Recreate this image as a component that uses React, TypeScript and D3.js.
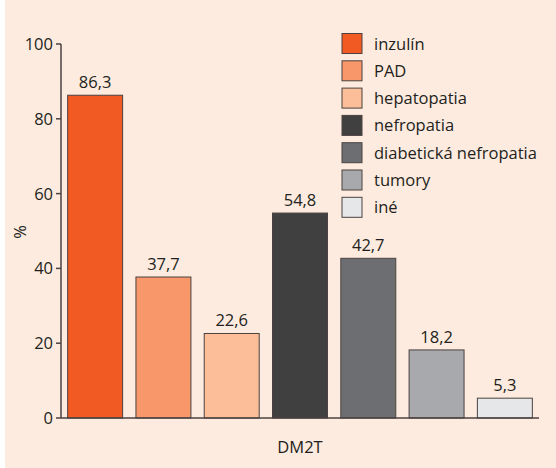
import React from "react";
import * as d3 from "d3";

const categories = ["inzulín", "PAD", "hepatopatia", "nefropatia", "diabetická nefropatia", "tumory", "iné"];
const values = [86.3, 37.7, 22.6, 54.8, 42.7, 18.2, 5.3];
const colors = ["#f15a22", "#f7976a", "#fbbe98", "#404041", "#6d6e71", "#a7a9ac", "#e6e7e8"];
const yTicks = [0, 20, 40, 60, 80, 100];
const xLabel = "DM2T";
const yLabel = "%";

const W = 556;
const H = 468;
const font = "'Open Sans', sans-serif";
const fs = 16.5;
const textColor = "#231f20";
const stroke = "#4a4240";

export default function App() {
  const x = d3.scaleBand<string>().domain(categories).range([61, 539]).paddingInner(0.195).paddingOuter(0.0975);
  const y = d3.scaleLinear().domain([0, 100]).range([418, 44]);
  const fmt = (v: number) => v.toFixed(1).replace(".", ",");

  return (
    <svg width={W} height={H} style={{ position: "absolute", left: 0, top: 0, display: "block" }}>
      <rect x={5} y={0} width={W - 5} height={H} fill="#fdebdf" />
      {categories.map((c, i) => (
        <g key={c}>
          <rect
            x={x(c)!}
            y={y(values[i])}
            width={x.bandwidth()}
            height={y(0) - y(values[i])}
            fill={colors[i]}
            stroke={stroke}
            strokeWidth={1}
          />
          <text
            x={x(c)! + x.bandwidth() / 2}
            y={y(values[i]) - 7}
            textAnchor="middle"
            fontFamily={font}
            fontSize={fs}
            fill={textColor}
          >
            {fmt(values[i])}
          </text>
        </g>
      ))}
      {/* axes */}
      <line x1={61} x2={61} y1={y(100)} y2={y(0)} stroke={stroke} strokeWidth={1.5} />
      <line x1={61} x2={539} y1={y(0)} y2={y(0)} stroke={stroke} strokeWidth={1.5} />
      {yTicks.map((t) => (
        <g key={t}>
          <line x1={56} x2={61} y1={y(t)} y2={y(t)} stroke={stroke} strokeWidth={1.5} />
          <text
            x={53}
            y={y(t) + 6}
            textAnchor="end"
            fontFamily={font}
            fontSize={fs}
            fill={textColor}
          >
            {t}
          </text>
        </g>
      ))}
      <text
        transform={`translate(26,232) rotate(-90)`}
        textAnchor="middle"
        fontFamily={font}
        fontSize={fs}
        fill={textColor}
      >
        {yLabel}
      </text>
      <text x={300} y={453} textAnchor="middle" fontFamily={font} fontSize={fs} fill={textColor}>
        {xLabel}
      </text>
      {/* legend */}
      {categories.map((c, i) => (
        <g key={"l" + c} transform={`translate(342,${33.5 + i * 27.3})`}>
          <rect x={0} y={0} width={20} height={20} fill={colors[i]} stroke={stroke} strokeWidth={1} />
          <text x={32} y={16} fontFamily={font} fontSize={fs} fill={textColor}>
            {c}
          </text>
        </g>
      ))}
    </svg>
  );
}
